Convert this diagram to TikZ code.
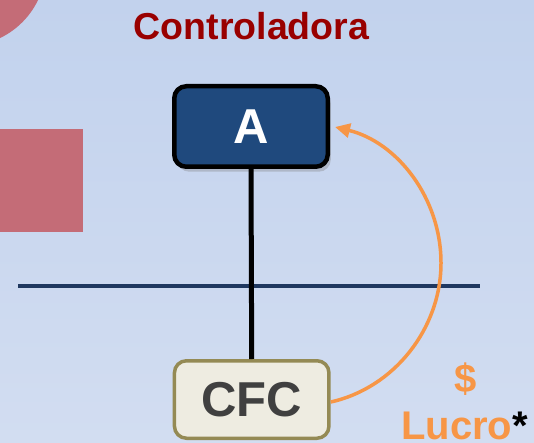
\documentclass[tikz,border=0pt]{standalone}
\usepackage{fontspec}
\setmainfont{Liberation Sans}
\usetikzlibrary{arrows.meta,shadows,calc}
\definecolor{bgtop}{RGB}{194,210,237}
\definecolor{bgbot}{RGB}{210,221,241}
\definecolor{pinkc}{RGB}{196,108,119}
\definecolor{titlered}{RGB}{153,0,0}
\definecolor{navyfill}{RGB}{31,73,125}
\definecolor{navyline}{RGB}{31,56,96}
\definecolor{cfcfill}{RGB}{238,236,225}
\definecolor{cfcborder}{RGB}{148,138,84}
\definecolor{cfctext}{RGB}{64,64,64}
\definecolor{orangec}{RGB}{247,150,70}
\tikzset{
  boxA/.style={draw=black, line width=4.5pt, fill=navyfill, rounded corners=12pt,
    minimum width=153.5pt, minimum height=80.5pt, text=white,
    font=\fontsize{49}{49}\selectfont\bfseries,
    drop shadow={shadow xshift=3pt, shadow yshift=-5pt, opacity=0.35}},
  boxCFC/.style={draw=cfcborder, line width=3.5pt, fill=cfcfill, rounded corners=12pt,
    minimum width=154.5pt, minimum height=77.5pt, text=cfctext,
    font=\fontsize{49}{49}\selectfont\bfseries},
  lucrotxt/.style={text=orangec, font=\fontsize{40}{40}\selectfont\bfseries, inner sep=0pt},
  profit/.style={draw=orangec, line width=3.5pt, -{Triangle[length=15pt,width=14pt]}},
}
\begin{document}
\begin{tikzpicture}[x=1pt,y=-1pt]
\useasboundingbox (0,0) rectangle (534,443);
\shade[top color=bgtop, bottom color=bgbot] (0,0) rectangle (534,443);
\begin{scope}
\clip (0,0) rectangle (534,443);
\fill[pinkc] (-35,-35) circle[radius=81];
\fill[pinkc] (0,129) rectangle (82.5,232);
\end{scope}
\draw[navyline, line width=3.5pt] (18,286) -- (480,286);
\node[text=titlered, font=\fontsize{37.5}{37.5}\selectfont\bfseries] (title) at (251.5,26.5) {Controladora};
\node[boxA] (A) at (251,126.5) {A};
\node[boxCFC] (CFC) at (251.7,399.5) {CFC};
\draw[black, line width=5pt] (A.south) -- (CFC.north);
\node[lucrotxt, anchor=base] (dollar) at (466,392) {\$};
\node[lucrotxt, anchor=base west] (lucro) at (401,439) {Lucro\textcolor{black}{*}};
\coordinate (start) at ($(CFC.east)+(0,2.5)$);
\coordinate (bend) at (441,263);
\coordinate (tip) at ($(A.east)+(5,0.5)$);
\draw[profit] (start) .. controls (394,388) and (441,328.5) .. (bend)
  .. controls (441,197.5) and (396.7,142) .. (tip);
\end{tikzpicture}
\end{document}
